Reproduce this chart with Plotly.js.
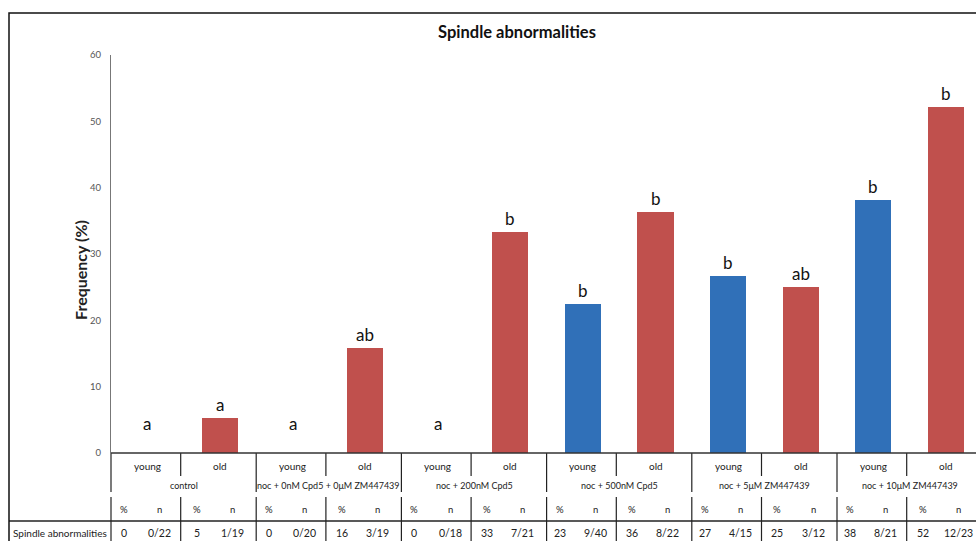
<!DOCTYPE html>
<html>
<head>
<meta charset="utf-8">
<script src="https://cdn.plot.ly/plotly-3.0.1.min.js"></script>
<style>html,body{margin:0;padding:0;background:#fff;overflow:hidden;}#chart{width:976px;height:541px;}</style>
</head>
<body>
<div id="chart"></div>
<script>
// ---- data ----
const groups = ["control", "noc + 0nM Cpd5 + 0\u03bcM ZM447439", "noc + 200nM Cpd5", "noc + 500nM Cpd5", "noc + 5\u03bcM ZM447439", "noc + 10\u03bcM ZM447439"];
const ages = ["young", "old"];
const freq = [0, 5.26, 0, 15.79, 0, 33.33, 22.5, 36.36, 26.67, 25.0, 38.1, 52.17];
const letters = ["a", "a", "a", "ab", "a", "b", "b", "b", "b", "ab", "b", "b"];
const pctLabels = ["0", "5", "0", "16", "0", "33", "23", "36", "27", "25", "38", "52"];
const nLabels = ["0/22", "1/19", "0/20", "3/19", "0/18", "7/21", "9/40", "8/22", "4/15", "3/12", "8/21", "12/23"];
const rowLabel = "Spindle abnormalities";
const yTicks = [0, 10, 20, 30, 40, 50, 60];

// ---- layout helpers ----
const FONT = "Lato, 'Open Sans', sans-serif";
const L = 111, T = 55, B = 453, W = 976, H = 541;
const plotH = B - T, plotW = W - L;
const P = py => (B - py) / plotH;          // pixel y -> paper y
const PX = px => (px - L) / plotW;         // pixel x -> paper x
const BLUE = "#3070B8", RED = "#C0504D";
const TXT = "#222";

const idx = freq.map((_, i) => i);
const colors = idx.map(i => (i % 2 === 0 ? BLUE : RED));

const traces = [{
  type: "bar",
  x: idx,
  y: freq,
  width: 0.5,
  marker: {color: colors, line: {width: 0}},
  hoverinfo: "skip"
}];

const ann = [];
const shapes = [];
const txt = (x, y, xr, text, size, extra) => ann.push(Object.assign({x: x, y: y, xref: xr, yref: "paper",
  text: text, showarrow: false, xanchor: "center", yanchor: "middle",
  font: {family: FONT, size: size, color: TXT}}, extra || {}));

// significance letters
idx.forEach(i => {
  ann.push({x: i, y: freq[i], xref: "x", yref: "y", text: letters[i], showarrow: false,
    xanchor: "center", yanchor: "bottom", yshift: freq[i] === 0 ? 17 : 1,
    font: {family: FONT, size: 17, color: "#111"}});
});

// table text
idx.forEach(i => {
  txt(i, P(466), "x", ages[i % 2], 10);
  txt(i - 0.5 + 0.18, P(509), "x", "%", 9.5);
  txt(i - 0.5 + 0.67, P(509), "x", "n", 9.5);
  txt(i - 0.5 + 0.18, P(533), "x", pctLabels[i], 10.5);
  txt(i - 0.5 + 0.67, P(533), "x", nLabels[i], 10.5);
});
groups.forEach((g, k) => txt(2 * k + 0.5, P(485.5), "x", g, 9));
txt(PX(60), P(533), "paper", rowLabel, 10);
// y-axis title
txt(PX(80), P(270), "paper", "<b>Frequency (%)</b>", 16, {textangle: -90});

// table lines
const line = (x0, y0, x1, y1, xr, w, c) => shapes.push({type: "line", xref: xr, yref: "paper",
  x0: x0, x1: x1, y0: P(y0), y1: P(y1), line: {color: c || "#222", width: w || 1}});
line(PX(L), 453, PX(L), 492, "paper", 1.2);
line(PX(L), 497, PX(L), 545, "paper", 1.2);
groups.forEach((g, k) => {
  const inner = 2 * k + 0.5 - 0.04;
  line(inner, 453, inner, 476, "x", 1.2);
  line(inner, 497, inner, 545, "x", 1.2);
  const edge = 2 * k + 1.5;
  if (k < groups.length - 1) {
    line(edge, 453, edge, 492, "x", 1.2);
    line(edge, 497, edge, 545, "x", 1.2);
  }
});
line(PX(9), 521, 1.2, 521, "paper", 1.3);
line(PX(L), 453, 1.2, 453, "paper", 1.6, "#333");
shapes.push({type: "rect", xref: "paper", yref: "paper", x0: PX(9), x1: 1.3, y0: P(13), y1: P(640),
  line: {color: "#111", width: 1.5}});

const layout = {
  width: W, height: H,
  margin: {l: L, r: 0, t: T, b: H - B, pad: 0},
  paper_bgcolor: "#fff", plot_bgcolor: "#fff",
  showlegend: false,
  title: {text: "<b>Spindle abnormalities</b>", x: 517 / W, xanchor: "center", xref: "container",
    y: 1 - 32 / H, yanchor: "middle", yref: "container", font: {family: FONT, size: 16.5, color: "#111"}},
  xaxis: {range: [-0.5, plotW / 72.6 - 0.5], showgrid: false, zeroline: false, showline: false,
    showticklabels: false, ticks: "", fixedrange: true},
  yaxis: {range: [0, 60], tickvals: yTicks, showgrid: false, zeroline: false, showline: true,
    linecolor: "#777", linewidth: 1, ticks: "", ticklabelstandoff: 7,
    tickfont: {family: FONT, size: 9.5, color: "#555"}, fixedrange: true},
  annotations: ann,
  shapes: shapes,
  bargap: 0
};

Plotly.newPlot("chart", traces, layout, {displayModeBar: false, staticPlot: true});
</script>
</body>
</html>
